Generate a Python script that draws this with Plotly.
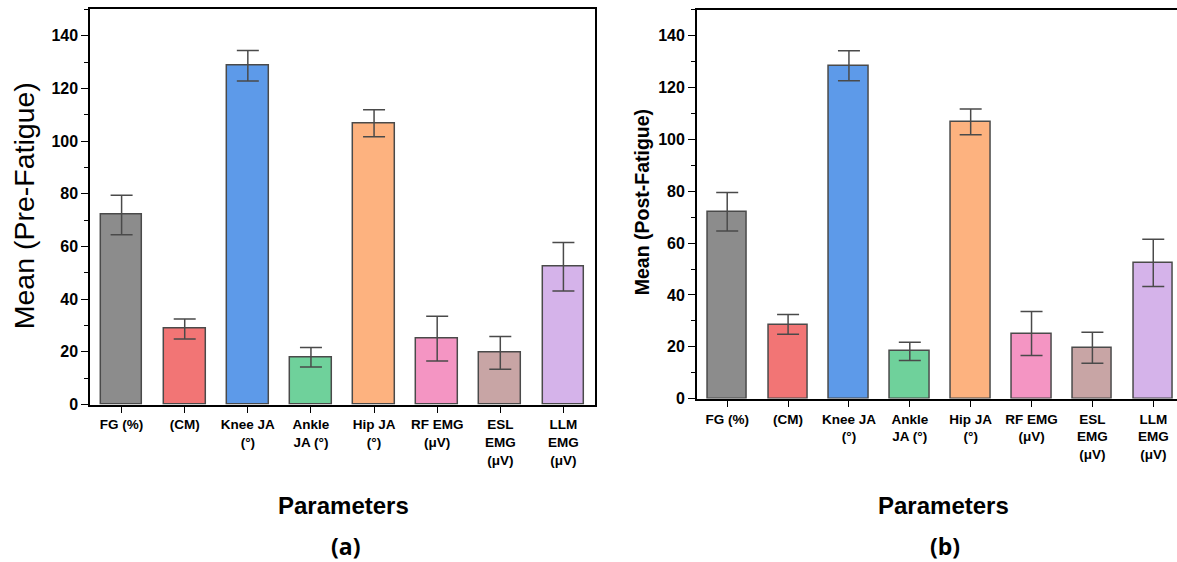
import plotly.graph_objects as go

categories = ["FG (%)", "(CM)", "Knee JA<br>(°)", "Ankle<br>JA (°)", "Hip JA<br>(°)",
              "RF EMG<br>(μV)", "ESL<br>EMG<br>(μV)", "LLM<br>EMG<br>(μV)"]
pre_means = [72.0, 28.7, 128.6, 18.0, 106.8, 25.0, 19.6, 52.3]
pre_err = [7.5, 3.8, 5.8, 3.7, 5.1, 8.5, 6.2, 9.2]
post_means = [72.1, 28.6, 128.5, 18.2, 106.8, 25.1, 19.6, 52.4]
post_err = [7.4, 3.8, 5.8, 3.5, 5.0, 8.5, 6.0, 9.1]
bar_colors = ["#8C8C8C", "#F27575", "#5D9AE9", "#6FD19B", "#FDB27F",
              "#F495C3", "#C8A5A5", "#D5B3EA"]
y_ticks = [0, 20, 40, 60, 80, 100, 120, 140]

FONT = "Arial, Liberation Sans, sans-serif"
EDGE = "#4a4a4a"
HV = 555.0  # effective vertical pixel span used for placement


def py(p):
    return 1 - p / HV


fig = go.Figure()
x_idx = list(range(len(categories)))

fig.add_trace(go.Bar(
    x=x_idx, y=pre_means, width=0.66,
    marker=dict(color=bar_colors, line=dict(color=EDGE, width=1.5)),
    error_y=dict(type="data", array=pre_err, color=EDGE, thickness=1.5, width=11),
    xaxis="x", yaxis="y", showlegend=False))
fig.add_trace(go.Bar(
    x=x_idx, y=post_means, width=0.65,
    marker=dict(color=bar_colors, line=dict(color=EDGE, width=1.5)),
    error_y=dict(type="data", array=post_err, color=EDGE, thickness=1.5, width=11),
    xaxis="x2", yaxis="y2", showlegend=False))

tickfont = dict(family=FONT, size=16, color="black", weight="bold")
xtickfont = dict(family=FONT, size=13.5, color="black", weight="bold")

common_x = dict(tickmode="array", tickvals=x_idx, ticktext=categories,
                showline=True, linecolor="black", linewidth=1.5, mirror=True,
                ticks="outside", ticklen=7, tickwidth=1.2, tickcolor="black",
                tickfont=xtickfont, showgrid=False, zeroline=False, tickangle=0)
common_y = dict(range=[0, 150], tickmode="array", tickvals=y_ticks,
                showline=True, linecolor="black", linewidth=1.5,
                ticks="outside", ticklen=7, tickwidth=1.2, tickcolor="black",
                minor=dict(ticks="outside", ticklen=4, tickwidth=1.2, tickcolor="black", dtick=10),
                tickfont=tickfont, showgrid=False, zeroline=False)

fig.update_layout(
    width=1177, height=562, autosize=False,
    margin=dict(l=0, r=0, t=0, b=0),
    paper_bgcolor="white", plot_bgcolor="white",
    bargap=0,
    xaxis=dict(domain=[0.0765, 0.5055], range=[-0.5, 7.5], anchor="y", **common_x),
    yaxis=dict(domain=[py(406), py(9.5)], anchor="x", mirror=True, **common_y),
    xaxis2=dict(domain=[0.592, 1.0], range=[-0.5, 7.39], anchor="y2", **common_x),
    yaxis2=dict(domain=[py(400), py(10)], anchor="x2", mirror=False, **common_y),
)

ann = []
ann.append(dict(text="Mean (Pre-Fatigue)", xref="paper", yref="paper",
                x=24 / 1177, y=py(207), textangle=-90, showarrow=False,
                font=dict(family=FONT, size=28.5, color="black"),
                xanchor="center", yanchor="middle"))
ann.append(dict(text="<b>Mean (Post-Fatigue)</b>", xref="paper", yref="paper",
                x=642 / 1177, y=py(203), textangle=-90, showarrow=False,
                font=dict(family=FONT, size=19.5, color="black"),
                xanchor="center", yanchor="middle"))
for xc, lab in [(343, "(a)"), (943, "(b)")]:
    ann.append(dict(text="<b>Parameters</b>", xref="paper", yref="paper",
                    x=xc / 1177, y=py(507), showarrow=False,
                    font=dict(family=FONT, size=24, color="black"),
                    xanchor="center", yanchor="middle"))
    ann.append(dict(text="<b>" + lab + "</b>", xref="paper", yref="paper",
                    x=(xc + 2) / 1177, y=py(548), showarrow=False,
                    font=dict(family="Open Sans, sans-serif", size=23, color="black"),
                    xanchor="center", yanchor="middle"))
fig.update_layout(annotations=ann)

css_js = (
    "var h=document.documentElement,b=document.body;"
    "h.style.margin='0';h.style.padding='0';"
    "b.style.margin='0';b.style.padding='0';b.style.overflow='hidden';"
)
fig.write_html("out.html",
               config={"displayModeBar": False, "responsive": False},
               post_script=css_js)
